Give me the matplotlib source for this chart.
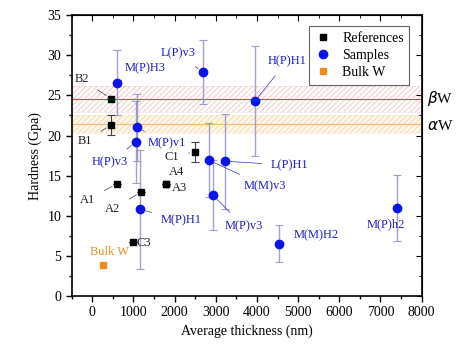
import matplotlib
matplotlib.use("Agg")
import matplotlib.pyplot as plt
from matplotlib.transforms import blended_transform_factory

plt.rcParams['font.family'] = ['Liberation Serif', 'DejaVu Serif']
plt.rcParams['hatch.linewidth'] = 0.5

# Reference data (black squares)
ref_labels = ["B2", "B1", "C1", "A1", "A2", "A3", "A4", "C3"]
ref_x = [450, 450, 2500, 600, 1190, 1800, 1800, 1000]
ref_y = [24.6, 21.3, 18.0, 14.0, 13.0, 14.0, 14.0, 6.7]
ref_err = [0.0, 1.2, 1.25, 0.0, 0.0, 0.0, 0.0, 0.0]
ref_label_pos = [(-260, 27.0), (-180, 19.3), (1930, 17.3), (-110, 12.0),
                 (500, 10.8), (2130, 13.5), (2050, 15.4), (1250, 6.6)]

# Samples (blue circles)
smp_labels = ["M(P)H3", "L(P)v3", "H(P)H1", "M(P)v1", "H(P)v3", "M(M)v3",
              "L(P)H1", "M(P)v3", "M(P)H1", "M(M)H2", "M(P)h2"]
smp_x = [600, 2680, 3950, 1090, 1060, 2840, 3215, 2925, 1160, 4530, 7410]
smp_y = [26.6, 27.9, 24.3, 21.0, 19.2, 16.9, 16.8, 12.6, 10.8, 6.5, 11.0]
smp_err = [4.0, 4.0, 6.8, 4.2, 5.1, 4.6, 5.9, 4.4, 7.4, 2.3, 4.1]
smp_label_pos = [(1280, 28.4), (2090, 30.2), (4720, 29.2), (1810, 19.0),
                 (430, 16.7), (4200, 13.7), (4800, 16.3), (3670, 8.7),
                 (2170, 9.4), (5440, 7.6), (7140, 9.0)]

# Bulk W
bulk_x = [250]
bulk_y = [3.9]

# Phase bands
beta_center, beta_lo, beta_hi = 24.6, 22.9, 26.2
alpha_center, alpha_lo, alpha_hi = 21.4, 20.3, 22.5

fig = plt.figure(figsize=(4.58, 3.52), dpi=100)
ax = fig.add_axes([0.1566, 0.159, 0.764, 0.798])

# bands
ax.axhspan(beta_lo, beta_hi, facecolor='none', edgecolor='#f4b4b4', hatch='//////', lw=0, zorder=0)
ax.axhspan(alpha_lo, alpha_hi, facecolor='#fdf6ea', edgecolor='#f2d2a2', hatch='//////', lw=0, zorder=0)
for v in (beta_lo, beta_hi):
    ax.axhline(v, color='#f2b8b8', lw=0.6, ls=':', zorder=0)
for v in (alpha_lo, alpha_hi):
    ax.axhline(v, color='#f0d8b0', lw=0.6, ls=':', zorder=0)
ax.axhline(beta_center, color='#d84848', lw=0.8, zorder=1)
ax.axhline(alpha_center, color='#f2bc78', lw=0.8, zorder=1)

# error bars
ax.errorbar(smp_x, smp_y, yerr=smp_err, fmt='none', ecolor='#8a8ac0', alpha=0.8,
            elinewidth=1.0, capsize=3, capthick=0.8, zorder=2)
ax.errorbar(ref_x, ref_y, yerr=ref_err, fmt='none', ecolor='#404040',
            elinewidth=0.8, capsize=3, capthick=0.8, zorder=2)

ax.plot(ref_x, ref_y, 's', color='black', ms=4.2, ls='none', zorder=4, label='References')
ax.plot(smp_x, smp_y, 'o', color='#0a14e6', ms=6, ls='none', zorder=4, label='Samples')
ax.plot(bulk_x, bulk_y, 's', color='#f08c1e', ms=4.2, ls='none', zorder=4, label='Bulk W')

for lab, x, y, (lx, ly) in zip(ref_labels, ref_x, ref_y, ref_label_pos):
    ax.annotate(lab, xy=(x, y), xytext=(lx, ly), ha='center', va='center',
                fontsize=9, color='#202020',
                arrowprops=dict(arrowstyle='-', color='#404040', lw=0.5,
                                shrinkA=5, shrinkB=4))
for lab, x, y, (lx, ly) in zip(smp_labels, smp_x, smp_y, smp_label_pos):
    ax.annotate(lab, xy=(x, y), xytext=(lx, ly), ha='center', va='center',
                fontsize=9, color='#2020c0',
                arrowprops=dict(arrowstyle='-', color='#3030c0', lw=0.5,
                                shrinkA=5, shrinkB=4))
ax.text(414, 5.5, "Bulk W", color='#f08c1e', fontsize=9, ha='center', va='center')

tr = blended_transform_factory(ax.transAxes, ax.transData)
ax.text(1.015, beta_center, r"$\beta$W", transform=tr, fontsize=11, va='center', ha='left')
ax.text(1.015, alpha_center - 0.2, r"$\alpha$W", transform=tr, fontsize=11, va='center', ha='left')

ax.set_xlim(-500, 8000)
ax.set_ylim(0, 35)
ax.set_xticks(range(0, 8001, 1000))
ax.set_yticks(range(0, 36, 5))
ax.set_xticks(range(-500, 8001, 500), minor=True)
ax.set_yticks([i * 2.5 for i in range(15)], minor=True)
ax.tick_params(which='both', direction='out', labelsize=10, width=1)
ax.tick_params(which='major', length=4)
ax.tick_params(which='minor', length=2.5)
ax2 = ax.secondary_xaxis('top')
ax2.set_xticks(range(0, 8001, 1000))
ax2.set_xticks(range(-500, 8001, 500), minor=True)
ax2.tick_params(which='both', direction='in', labeltop=False)
ax2.tick_params(which='major', length=4)
ax2.tick_params(which='minor', length=2.5)
ax2.set_xticklabels([])
ay2 = ax.secondary_yaxis('right')
ay2.set_yticks(range(0, 36, 5))
ay2.set_yticks([i * 2.5 for i in range(15)], minor=True)
ay2.tick_params(which='both', direction='in')
ay2.tick_params(which='major', length=4)
ay2.tick_params(which='minor', length=2.5)
ay2.set_yticklabels([])
for s in ax.spines.values():
    s.set_linewidth(1.2)

ax.set_xlabel("Average thickness (nm)", fontsize=10)
ax.set_ylabel("Hardness (Gpa)", fontsize=10)

leg = ax.legend(loc='upper right', fontsize=10, frameon=True, fancybox=False,
                edgecolor='#404040', handletextpad=0.8, borderpad=0.4,
                labelspacing=0.3, handlelength=1.2, bbox_to_anchor=(0.985, 0.985))
leg.get_frame().set_linewidth(0.8)

fig.savefig("out.png", dpi=100)
